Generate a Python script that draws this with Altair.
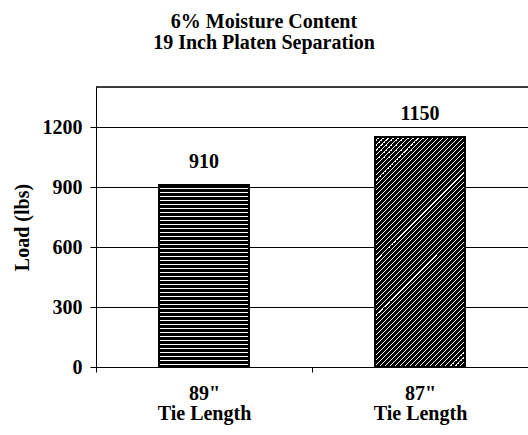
import altair as alt
import pandas as pd

# ---- data ----
categories = ['89"', '87"']
loads = [910, 1150]
label_line2 = "Tie Length"
title_lines = ["6% Moisture Content", "19 Inch Platen Separation"]
y_title = "Load (lbs)"
y_ticks = [0, 300, 600, 900, 1200]
y_max = 1400

df = pd.DataFrame({"tie": categories, "load": loads})

FONT = "Liberation Serif"
PLOT_W, PLOT_H = 432, 280
BAR_W = 90


def stripe_gradient(n, dark_frac, x2, y2):
    stops = []
    for i in range(n):
        a = i / n
        b = (i + dark_frac) / n
        c = (i + 1) / n
        stops += [
            alt.GradientStop(offset=a, color="black"),
            alt.GradientStop(offset=b, color="black"),
            alt.GradientStop(offset=b, color="white"),
            alt.GradientStop(offset=c, color="white"),
        ]
    return alt.Gradient(gradient="linear", stops=stops, x1=0, y1=0, x2=x2, y2=y2)


# horizontal stripes for the first bar (4 px period)
bar1_h = loads[0] / y_max * PLOT_H
n1 = int(round(bar1_h / 4)) + 1
horiz_fill = stripe_gradient(n1, 0.72, 0, n1 * 4 / bar1_h)

# 45-degree hatch for the second bar (5 px horizontal period)
bar2_h = loads[1] / y_max * PLOT_H
a = BAR_W / bar2_h
t = (a + 1) / (a * a + 1)
n2 = int((BAR_W + bar2_h) / 5) + 1
scale2 = n2 * 5 / (BAR_W + bar2_h)
diag_fill = stripe_gradient(n2, 0.72, a * t * scale2, t * scale2)

x_enc = alt.X(
    "tie:N",
    sort=categories,
    scale=alt.Scale(paddingInner=0, paddingOuter=0),
    axis=alt.Axis(
        title=None,
        labelExpr=f"datum.label ? [datum.label, '{label_line2}'] : ''",
        labelFont=FONT,
        labelFontSize=20,
        labelFontWeight="bold",
        labelColor="black",
        labelLineHeight=20,
        labelPadding=11,
        labelAngle=0,
        tickBand="extent",
        tickSize=5,
        tickColor="black",
        domainColor="black",
        grid=False,
    ),
)
y_enc = alt.Y(
    "load:Q",
    scale=alt.Scale(domain=[0, y_max], nice=False),
    axis=alt.Axis(
        values=y_ticks,
        format="d",
        grid=True,
        gridColor="black",
        gridOpacity=1,
        domainColor="black",
        tickColor="black",
        tickSize=6,
        labelFont=FONT,
        labelFontSize=20,
        labelFontWeight="bold",
        labelColor="black",
        labelPadding=8,
        title=y_title,
        titleFont=FONT,
        titleFontSize=20,
        titleFontWeight="bold",
        titleColor="black",
        titleAngle=-90,
        titleAlign="center",
        titleBaseline="middle",
        titleX=-74,
        titleY=PLOT_H / 2,
    ),
)

base = alt.Chart(df).encode(x=x_enc, y=y_enc)

bar1 = base.transform_filter(alt.datum.tie == categories[0]).mark_bar(
    size=BAR_W, fill=horiz_fill, stroke="black", strokeWidth=2
)
bar2 = base.transform_filter(alt.datum.tie == categories[1]).mark_bar(
    size=BAR_W, fill=diag_fill, stroke="black", strokeWidth=2
)
labels = base.mark_text(
    dy=-17, baseline="alphabetic", font=FONT, fontSize=20, fontWeight="bold", color="black"
).encode(text="load:Q")

top_border = alt.Chart(df).mark_rule(color="black").encode(y=alt.datum(y_max))

chart = (
    alt.layer(top_border, bar1, bar2, labels)
    .properties(
        width=PLOT_W,
        height=PLOT_H,
        title=alt.Title(
            title_lines,
            font=FONT,
            fontSize=20,
            fontWeight="bold",
            color="black",
            anchor="middle",
            dx=-48,
            offset=18,
            baseline="alphabetic",
            lineHeight=21,
        ),
        autosize=alt.AutoSizeParams(type="none"),
        padding={"left": 96, "top": 87, "right": 0, "bottom": 68},
    )
    .configure_view(stroke=None)
    .configure(background="white")
)

chart.save("out.html", embed_options={"renderer": "svg", "actions": False})
